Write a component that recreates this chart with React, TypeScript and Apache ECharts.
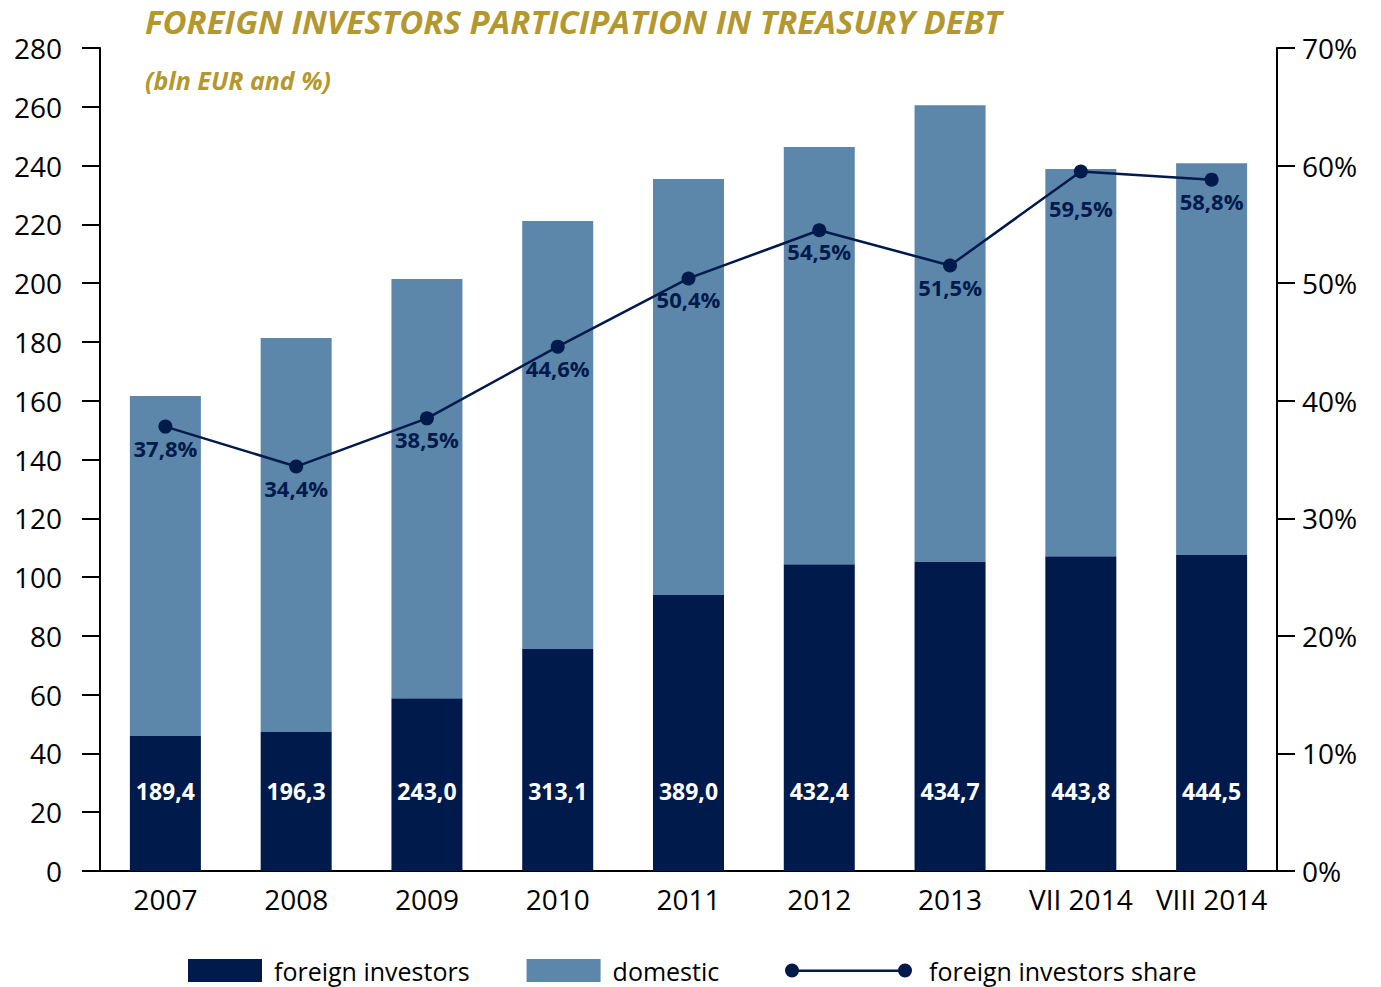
import React, { useEffect, useRef } from "react";
import * as echarts from "echarts";

const categories = ["2007", "2008", "2009", "2010", "2011", "2012", "2013", "VII 2014", "VIII 2014"];
const foreignInvestors = [45.9, 47.3, 58.8, 75.5, 93.9, 104.4, 105.1, 107.1, 107.5];
const domestic = [115.7, 134.0, 142.6, 145.6, 141.5, 141.9, 155.4, 131.7, 133.3];
const totalDebt = [189.4, 196.3, 243.0, 313.1, 389.0, 432.4, 434.7, 443.8, 444.5];
const foreignShare = [37.8, 34.4, 38.5, 44.6, 50.4, 54.5, 51.5, 59.5, 58.8];

const NAVY = "#001a4b";
const STEEL = "#5d86ab";
const GOLD = "#b3982f";
const FONT = "Open Sans";

const fmt = (v: number) => v.toFixed(1).replace(".", ",");

export default function App() {
  const ref = useRef<HTMLDivElement>(null);
  useEffect(() => {
    document.body.style.margin = "0";
    const chart = echarts.init(ref.current!, undefined, { renderer: "svg" });
    const lineIcon =
      "path://M0,7 A7,7 0 1,1 14,7 A7,7 0 1,1 0,7 Z M113,7 A7,7 0 1,1 127,7 A7,7 0 1,1 113,7 Z M7,6 L120,6 L120,8.5 L7,8.5 Z";
    chart.setOption({
      animation: false,
      textStyle: { fontFamily: FONT },
      title: [
        {
          text: "FOREIGN INVESTORS PARTICIPATION IN TREASURY DEBT",
          left: 140,
          top: 0,
          textStyle: { color: GOLD, fontSize: 33, fontWeight: "bold", fontStyle: "italic", fontFamily: FONT },
        },
        {
          text: "(bln EUR and %)",
          left: 140,
          top: 62,
          textStyle: { color: GOLD, fontSize: 25, fontWeight: "bold", fontStyle: "italic", fontFamily: FONT },
        },
      ],
      legend: [
        {
          data: ["foreign investors", "domestic"],
          left: 188,
          top: 958,
          padding: 0,
          itemWidth: 74,
          itemHeight: 23,
          itemGap: 57,
          icon: "rect",
          textStyle: { fontSize: 25, color: "#000", fontFamily: FONT, padding: [0, 0, 0, 7] },
        },
        {
          data: [{ name: "foreign investors share", icon: lineIcon }],
          left: 785,
          top: 958,
          padding: 0,
          itemWidth: 127,
          itemHeight: 14,
          textStyle: { fontSize: 25, color: "#000", fontFamily: FONT, padding: [0, 0, 0, 12] },
        },
      ],
      grid: { left: 100, right: 104, top: 48, bottom: 116, containLabel: false },
      xAxis: {
        type: "category",
        data: categories,
        axisLine: { lineStyle: { color: "#000", width: 2 } },
        axisTick: { inside: true, length: 18, interval: 0, lineStyle: { color: "#000", width: 2 } },
        axisLabel: { fontSize: 28, color: "#000", margin: 14, interval: 0, fontFamily: FONT },
      },
      yAxis: [
        {
          type: "value",
          min: 0,
          max: 280,
          interval: 20,
          axisLine: { show: true, lineStyle: { color: "#000", width: 2 } },
          axisTick: { show: true, length: 18, lineStyle: { color: "#000", width: 2 } },
          axisLabel: { fontSize: 28, color: "#000", margin: 38, fontFamily: FONT },
          splitLine: { show: false },
        },
        {
          type: "value",
          min: 0,
          max: 70,
          interval: 10,
          position: "right",
          axisLine: { show: true, lineStyle: { color: "#000", width: 2 } },
          axisTick: { show: true, length: 18, lineStyle: { color: "#000", width: 2 } },
          axisLabel: { fontSize: 28, color: "#000", margin: 25, formatter: "{value}%", fontFamily: FONT },
          splitLine: { show: false },
        },
      ],
      series: [
        {
          name: "foreign investors",
          type: "bar",
          stack: "debt",
          barWidth: 71,
          data: foreignInvestors,
          itemStyle: { color: NAVY },
          label: {
            show: true,
            position: "insideBottom",
            distance: 69,
            color: "#fff",
            fontSize: 23,
            fontWeight: "bold",
            fontFamily: FONT,
            formatter: (p: any) => fmt(totalDebt[p.dataIndex]),
          },
        },
        {
          name: "domestic",
          type: "bar",
          stack: "debt",
          barWidth: 71,
          data: domestic,
          itemStyle: { color: STEEL },
        },
        {
          name: "foreign investors share",
          type: "line",
          yAxisIndex: 1,
          data: foreignShare.map((v, i) =>
            i === 7 ? { value: v, label: { distance: 19 } } : v
          ),
          symbol: "circle",
          symbolSize: 14,
          itemStyle: { color: NAVY },
          lineStyle: { color: NAVY, width: 2.5 },
          z: 5,
          label: {
            show: true,
            position: "bottom",
            distance: 3,
            color: NAVY,
            fontSize: 22,
            fontWeight: "bold",
            fontFamily: FONT,
            formatter: (p: any) => fmt(p.value) + "%",
          },
        },
      ],
    });
    return () => chart.dispose();
  }, []);
  return <div ref={ref} style={{ width: 1381, height: 987 }} />;
}
